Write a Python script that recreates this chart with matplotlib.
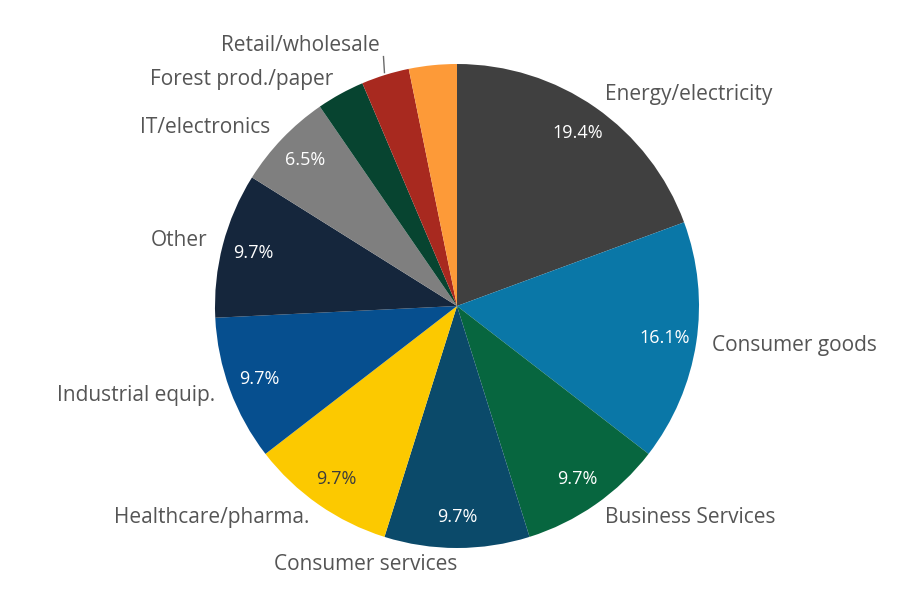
import numpy as np
import matplotlib
matplotlib.use("Agg")
import matplotlib.pyplot as plt

plt.rcParams['font.family'] = ['Open Sans', 'DejaVu Sans']

categories = ["Energy/electricity", "Consumer goods", "Business Services",
              "Consumer services", "Healthcare/pharma.", "Industrial equip.",
              "Other", "IT/electronics", "Forest prod./paper",
              "Retail/wholesale", ""]
shares = [19.4, 16.1, 9.7, 9.7, 9.7, 9.7, 9.7, 6.5, 3.2, 3.2, 3.2]
pct_labels = ["19.4%", "16.1%", "9.7%", "9.7%", "9.7%", "9.7%", "9.7%",
              "6.5%", "", "", ""]
colors = ["#404040", "#0a77a7", "#07663f", "#0b4a6a", "#fcc900", "#064f8f",
          "#15263c", "#7f7f7f", "#074430", "#a8291f", "#fd9a38"]
pct_colors = ["white"] * 4 + ["#3c3c3c"] + ["white"] * 6

W, H = 898, 611
fig = plt.figure(figsize=(W / 100, H / 100), dpi=100)
ax = fig.add_axes([0, 0, 1, 1])

cx, cy, R = 457, 305, 242
wedges, _ = ax.pie(shares, colors=colors, startangle=90, counterclock=False,
                   center=(cx, cy), radius=R, frame=True,
                   wedgeprops=dict(linewidth=0))
ax.set_xlim(0, W)
ax.set_ylim(0, H)
ax.set_aspect('equal')
ax.axis('off')

label_r = 258
for w, name, pct, pc in zip(wedges, categories, pct_labels, pct_colors):
    theta = np.deg2rad((w.theta1 + w.theta2) / 2)
    c, s = np.cos(theta), np.sin(theta)
    if pct:
        ax.text(cx + 0.87 * R * c, cy + 0.87 * R * s, pct, ha='center',
                va='center', fontsize=13, color=pc)
    if not name:
        continue
    if name == "Retail/wholesale":
        x0, y0 = cx + 1.01 * R * c, cy + 1.01 * R * s
        ax.plot([x0, x0 - 1], [y0, y0 + 16], color="#6a6a6a", lw=1)
        ax.text(x0 - 5, y0 + 27, name, ha='right', va='center',
                fontsize=15, color="#555555")
        continue
    ha = 'left' if c > 0 else 'right'
    ax.text(cx + label_r * c, cy + label_r * s, name, ha=ha, va='center',
            fontsize=15, color="#555555")

fig.savefig("out.png", dpi=100, facecolor="white")
